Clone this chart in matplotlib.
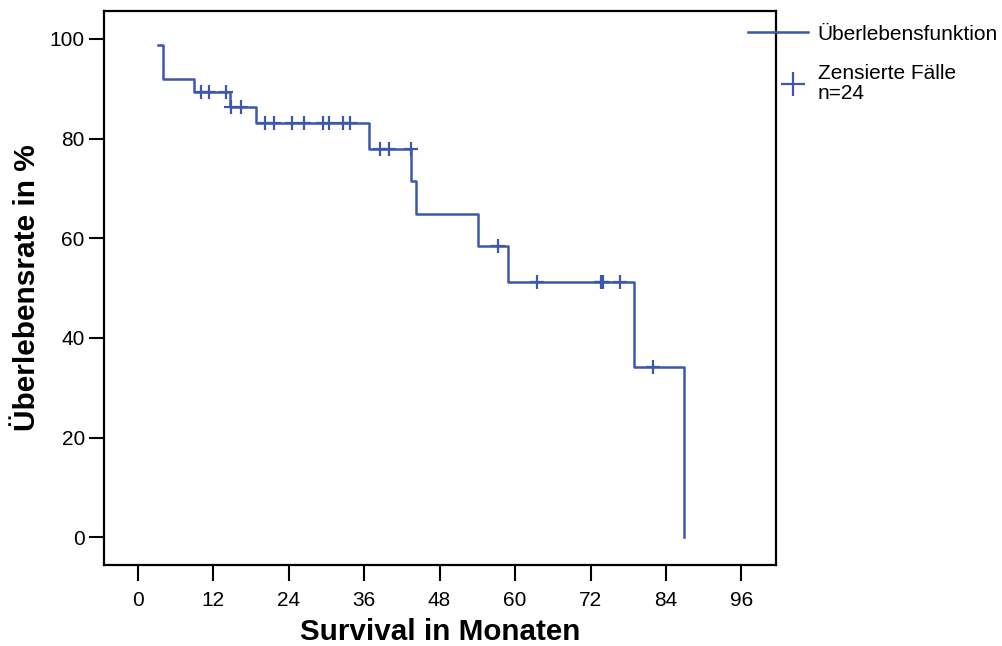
import numpy as np
import matplotlib
matplotlib.use("Agg")
import matplotlib.pyplot as plt
from matplotlib.lines import Line2D
from matplotlib.legend_handler import HandlerLine2DCompound

plt.rcParams['font.family'] = ['Liberation Sans', 'DejaVu Sans']

# Kaplan-Meier Kurve (Zeitpunkte der Stufen und Ueberlebensrate danach)
zeiten = [3.3, 4.0, 9.0, 14.75, 18.8, 36.7, 43.45, 44.2, 54.1, 58.9, 78.9, 86.9]
rate = [98.7, 91.9, 89.4, 86.3, 83.1, 77.9, 71.5, 64.9, 58.5, 51.2, 34.2, 0.0]

# zensierte Faelle
zensiert = [10.0, 11.3, 14.0, 14.8, 16.4, 20.3, 21.6, 24.5, 26.5, 29.4, 30.4,
            32.7, 33.7, 38.5, 39.9, 43.4, 57.3, 63.5, 73.6, 74.0, 76.7, 81.9]

x_ticks = [0, 12, 24, 36, 48, 60, 72, 84, 96]
y_ticks = [0, 20, 40, 60, 80, 100]

farbe = '#3d57aa'

idx = np.searchsorted(zeiten, zensiert, side='right') - 1
zens_rate = np.array(rate)[idx]

fig = plt.figure(figsize=(10.02, 6.46), dpi=100)
ax = fig.add_axes([0.1033, 0.1254, 0.6712, 0.8576])

ax.step(zeiten, rate, where='post', color=farbe, lw=1.8)
ax.plot(zensiert, zens_rate, ls='none', marker='+', color=farbe,
        markersize=10, markeredgewidth=1.6)

ax.set_xlim(-5.44, 101.5)
ax.set_ylim(-5.56, 105.6)
ax.set_xticks(x_ticks)
ax.set_yticks(y_ticks)
ax.tick_params(axis='x', length=11.5, width=1.5, pad=7, labelsize=15)
ax.tick_params(axis='y', length=11, width=1.5, pad=2.5, labelsize=15)
for s in ax.spines.values():
    s.set_linewidth(1.6)

ax.set_xlabel('Survival in Monaten', fontsize=21.3, fontweight='bold', labelpad=6)
ax.set_ylabel('Überlebensrate in %', fontsize=21.5, fontweight='bold', labelpad=6)


# Marker in der Legende weiter rechts (wie im Original)
class MarkerRechts(HandlerLine2DCompound):
    def get_xdata(self, legend, xdescent, ydescent, width, height, fontsize):
        xd, xdm = super().get_xdata(legend, xdescent, ydescent, width, height, fontsize)
        return xd, np.array([0.75 * width - xdescent])


h1 = Line2D([], [], color=farbe, lw=1.8)
h2 = Line2D([], [], color=farbe, ls='none', marker='+', markersize=17,
            markeredgewidth=1.6)
leg = fig.legend([h1, h2], ['Überlebensfunktion', 'Zensierte Fälle\nn=24'],
                 loc='upper left', bbox_to_anchor=(0.7465, 0.962),
                 frameon=False, fontsize=15, handlelength=2.9,
                 handletextpad=0.45, borderpad=0, borderaxespad=0,
                 labelspacing=0.98, numpoints=1,
                 handler_map={h2: MarkerRechts(numpoints=1)})
for t in leg.get_texts():
    t.set_linespacing(1.05)

fig.savefig('out.png', dpi=100)
